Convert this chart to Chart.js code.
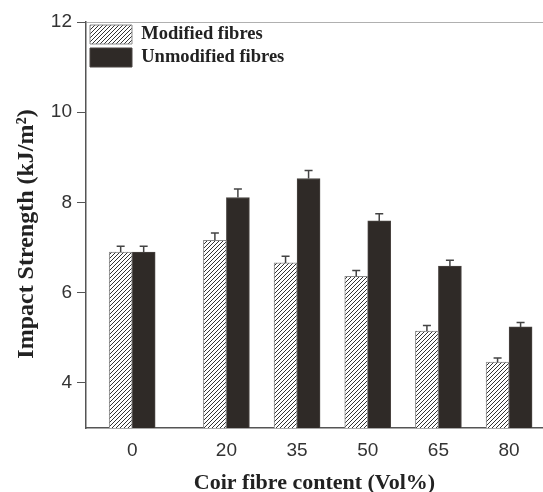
<!DOCTYPE html>
<html>
<head>
<meta charset="utf-8">
<script src="https://cdn.jsdelivr.net/npm/chart.js@4.4.0/dist/chart.umd.min.js"></script>
<style>
html, body { margin: 0; padding: 0; background: #fff; }
#wrap { width: 543px; height: 492px; }
</style>
</head>
<body>
<div id="wrap"><canvas id="mycanvas"></canvas></div>
<script>
// values
var fibreContent = [0, 20, 35, 50, 65, 80];
var modified = [6.9, 7.16, 6.66, 6.36, 5.15, 4.46];
var modifiedErr = [0.13, 0.16, 0.15, 0.13, 0.12, 0.09];
var unmodified = [6.9, 8.11, 8.53, 7.59, 6.59, 5.24];
var unmodifiedErr = [0.13, 0.19, 0.18, 0.16, 0.13, 0.1];
var yTicks = [4, 6, 8, 10, 12];

function hatch() {
    var c = document.createElement('canvas');
    c.width = 4; c.height = 4;
    var g = c.getContext('2d');
    g.fillStyle = '#fff';
    g.fillRect(0, 0, 4, 4);
    g.strokeStyle = '#333';
    g.lineWidth = 1;
    g.beginPath();
    g.moveTo(0, 4); g.lineTo(4, 0);
    g.moveTo(-1, 1); g.lineTo(1, -1);
    g.moveTo(3, 5); g.lineTo(5, 3);
    g.stroke();
    return g.createPattern(c, 'repeat');
}

function points(vals) {
    return fibreContent.map(function(x, i){ return {x: x, y: vals[i]}; });
}

var errs = [modifiedErr, unmodifiedErr];

var errorBars = {
    id: 'errorBars',
    afterDatasetsDraw: function(chart) {
        var ctx = chart.ctx;
        var y = chart.scales.y;
        chart.data.datasets.forEach(function(ds, di) {
            var meta = chart.getDatasetMeta(di);
            meta.data.forEach(function(bar, i) {
                var top = y.getPixelForValue(ds.data[i].y + errs[di][i]);
                ctx.save();
                ctx.strokeStyle = '#444';
                ctx.lineWidth = 1.5;
                ctx.beginPath();
                ctx.moveTo(bar.x, bar.y);
                ctx.lineTo(bar.x, top);
                ctx.moveTo(bar.x - 4, top);
                ctx.lineTo(bar.x + 4, top);
                ctx.stroke();
                ctx.restore();
            });
        });
    }
};

var ctx = document.getElementById('mycanvas');
var BarGraph = new Chart(ctx, {
    type: 'bar',
    data: {
        datasets: [
            {
                label: 'Modified fibres',
                data: points(modified),
                backgroundColor: hatch(),
                borderColor: '#8a8a8a',
                borderWidth: 1,
                barThickness: 23
            },
            {
                label: 'Unmodified fibres',
                data: points(unmodified),
                backgroundColor: '#2f2a27',
                borderColor: '#4a4542',
                borderWidth: 1,
                barThickness: 23
            }
        ]
    },
    options: {
        responsive: true,
        maintainAspectRatio: false,
        animation: false,
        layout: { padding: { top: 22, left: 0, right: 0, bottom: 0 } },
        plugins: {
            tooltip: { enabled: false },
            legend: {
                position: 'chartArea',
                align: 'start',
                title: {
                    display: true,
                    text: '',
                    font: { size: 1, lineHeight: 1 },
                    padding: { top: 0, bottom: 20 }
                },
                labels: {
                    boxWidth: 42,
                    boxHeight: 19,
                    padding: 4,
                    color: '#222',
                    font: { family: 'Liberation Serif', size: 18.5, weight: 'bold' }
                }
            }
        },
        scales: {
            x: {
                type: 'linear',
                offset: false,
                min: -9.8,
                max: 87.2,
                afterBuildTicks: function(s){ s.ticks = fibreContent.map(function(v){ return {value: v}; }); },
                afterFit: function(s){ s.height = 64; },
                grid: { display: false, drawTicks: false },
                border: { display: true, color: '#555', width: 1.5 },
                ticks: {
                    padding: 11,
                    color: '#333',
                    maxRotation: 0,
                    autoSkip: false,
                    font: { family: 'Liberation Sans', size: 19 },
                    callback: function(v){ return v; }
                },
                title: {
                    display: true,
                    text: 'Coir fibre content (Vol%)',
                    color: '#222',
                    padding: 0,
                    font: { family: 'Liberation Serif', size: 22, weight: 'bold', lineHeight: 0.75 }
                }
            },
            y: {
                min: 3,
                max: 12,
                afterBuildTicks: function(s){ s.ticks = yTicks.map(function(v){ return {value: v}; }); },
                afterFit: function(s){ s.width = 86; },
                grid: {
                    drawTicks: true,
                    tickLength: 9,
                    tickColor: '#555',
                    color: function(c){ return c.tick && c.tick.value === 12 ? '#b0b0b0' : 'rgba(0,0,0,0)'; }
                },
                border: { color: '#555', width: 1.5 },
                ticks: {
                    padding: 5,
                    color: '#333',
                    font: { family: 'Liberation Sans', size: 19 }
                },
                title: {
                    display: true,
                    text: 'Impact Strength (kJ/m²)\u00a0\u00a0\u00a0',
                    color: '#222',
                    padding: { top: 15 },
                    font: { family: 'Liberation Serif', size: 24, weight: 'bold', lineHeight: 1 }
                }
            }
        }
    },
    plugins: [errorBars]
});
</script>
</body>
</html>
